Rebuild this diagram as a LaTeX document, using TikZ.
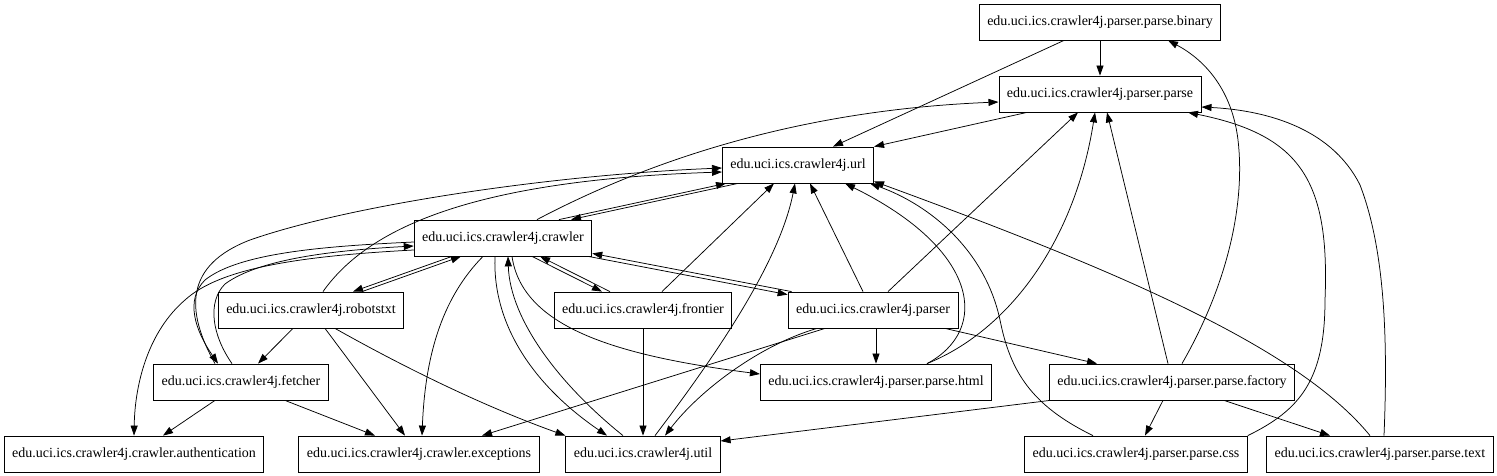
\documentclass[tikz,border=0pt]{standalone}
\usepackage{fontspec}
\setmainfont{Liberation Serif}
\usetikzlibrary{arrows.meta}

\begin{document}
\begin{tikzpicture}[x=1pt,y=-1pt,
	pkg/.style={draw, line width=0.8pt, minimum height=36pt, inner xsep=8pt, inner ysep=0pt, font=\fontsize{14}{16}\selectfont},
	dep/.style={-{Triangle[length=10pt,width=7pt]}, line width=0.75pt}]
				\useasboundingbox (0,0) rectangle (1497,476);

				% Package Nodes
				\node [pkg] (binary) at (1100,22) {edu.uci.ics.crawler4j.parser.parse.binary};
				\node [pkg] (parse) at (1100,94) {edu.uci.ics.crawler4j.parser.parse};
				\node [pkg] (url) at (798,165) {edu.uci.ics.crawler4j.url};
				\node [pkg] (crawler) at (503,238) {edu.uci.ics.crawler4j.crawler};
				\node [pkg] (robotstxt) at (311,310) {edu.uci.ics.crawler4j.robotstxt};
				\node [pkg] (frontier) at (643,310) {edu.uci.ics.crawler4j.frontier};
				\node [pkg] (parser) at (873,310) {edu.uci.ics.crawler4j.parser};
				\node [pkg] (fetcher) at (241,382) {edu.uci.ics.crawler4j.fetcher};
				\node [pkg] (html) at (876,382) {edu.uci.ics.crawler4j.parser.parse.html};
				\node [pkg] (factory) at (1172,382) {edu.uci.ics.crawler4j.parser.parse.factory};
				\node [pkg] (auth) at (134,454) {edu.uci.ics.crawler4j.crawler.authentication};
				\node [pkg] (exceptions) at (419,454) {edu.uci.ics.crawler4j.crawler.exceptions};
				\node [pkg] (util) at (643,454) {edu.uci.ics.crawler4j.util};
				\node [pkg] (css) at (1136,454) {edu.uci.ics.crawler4j.parser.parse.css};
				\node [pkg] (text) at (1380,454) {edu.uci.ics.crawler4j.parser.parse.text};

				%Straight Lines
				\draw [dep] (binary.south) -- (parse.north);
				\draw [dep] ([xshift=-36]binary.south) -- ([xshift=35]url.north);
				\draw [dep] ([xshift=-73]parse.south) -- (url.north east);
				\draw [dep] ([xshift=56]crawler.north) -- ([xshift=-72]url.south);
				\draw [dep] ([xshift=-60]url.south) -- ([xshift=68]crawler.north);
				\draw [dep] ([xshift=-51]crawler.south) -- ([xshift=42]robotstxt.north);
				\draw [dep] ([xshift=51]robotstxt.north) -- ([xshift=-42]crawler.south);
				\draw [dep] ([xshift=29]crawler.south) -- ([xshift=-41]frontier.north);
				\draw [dep] ([xshift=-33]frontier.north) -- ([xshift=37]crawler.south);
				\draw [dep] ([xshift=-4]crawler.south east) -- ([yshift=-3]parser.north west);
				\draw [dep] ([xshift=4]parser.north west) -- ([yshift=3]crawler.south east);
				\draw [dep] ([xshift=-18]robotstxt.south) -- ([xshift=17]fetcher.north);
				\draw [dep] ([xshift=14]robotstxt.south) -- ([xshift=-14]exceptions.north);
				\draw [dep] ([xshift=-26]fetcher.south) -- ([xshift=29]auth.north);
				\draw [dep] ([xshift=44]fetcher.south) -- ([xshift=-44]exceptions.north);
				\draw [dep] ([xshift=19]frontier.north) -- ([xshift=-24]url.south);
				\draw [dep] (frontier.south) -- (util.north);
				\draw [dep] ([xshift=-10]parser.north) -- ([xshift=12]url.south);
				\draw [dep] ([xshift=15]parser.north) -- ([xshift=-22]parse.south);
				\draw [dep] ([xshift=3]parser.south) -- (html.north);
				\draw [dep] ([xshift=72]parser.south) -- ([xshift=-75]factory.north);
				\draw [dep] ([xshift=-48]parser.south) -- ([xshift=63]exceptions.north);
				\draw [dep] ([xshift=-4]factory.north) -- ([xshift=7]parse.south);
				\draw [dep] ([xshift=-9]factory.south) -- ([xshift=9]css.north);
				\draw [dep] ([xshift=52]factory.south) -- ([xshift=-50]text.north);
				\draw [dep] ([xshift=-122]factory.south) -- ([yshift=13]util.east);

				%Curve Lines
				\draw [dep] ([xshift=34]crawler.north) .. controls (650,160) and (800,110) .. ([yshift=-8]parse.west);
				\draw [dep] ([xshift=-26]fetcher.north) .. controls (185,310) and (185,265) .. (250,240) .. controls (350,205) and (550,175) .. ([yshift=-3]url.west);
				\draw [dep] ([xshift=12]robotstxt.north) .. controls (370,225) and (480,180) .. ([yshift=-7]url.west);
				\draw [dep] ([yshift=-4]crawler.west) .. controls (330,246) and (240,252) .. (205,280) .. controls (185,300) and (195,330) .. ([xshift=-23]fetcher.north);
				\draw [dep] ([xshift=-9]fetcher.north) .. controls (212,335) and (207,302) .. (225,284) .. controls (260,258) and (340,250) .. ([yshift=-8]crawler.west);
				\draw [dep] ([yshift=-12]crawler.west) .. controls (300,256) and (220,268) .. (185,300) .. controls (150,330) and (135,380) .. (auth.north);
				\draw [dep] ([xshift=-20]crawler.south) .. controls (440,300) and (425,360) .. ([xshift=3]exceptions.north);
				\draw [dep] ([xshift=-8]crawler.south) .. controls (492,330) and (540,390) .. ([xshift=-36]util.north);
				\draw [dep] ([xshift=-20]util.north) .. controls (560,385) and (510,320) .. ([xshift=5]crawler.south);
				\draw [dep] ([xshift=9]crawler.south) .. controls (522,325) and (610,355) .. ([yshift=8]html.west);
				\draw [dep] ([xshift=24]robotstxt.south) .. controls (400,365) and (480,405) .. (util.north west);
				\draw [dep] ([xshift=-56]parser.south) .. controls (760,345) and (700,390) .. ([xshift=22]util.north);
				\draw [dep] ([xshift=12]util.north) .. controls (720,350) and (780,260) .. ([xshift=-3]url.south);
				\draw [dep] ([xshift=51]html.north) .. controls (990,330) and (980,250) .. ([xshift=47]url.south);
				\draw [dep] ([xshift=51]html.north) .. controls (1010,330) and (1075,240) .. ([xshift=-5]parse.south);
				\draw [dep] ([xshift=-43]css.north) .. controls (1030,405) and (1010,370) .. (1000,320) .. controls (985,250) and (930,205) .. ([xshift=-4]url.south east);
				\draw [dep] (css.north east) .. controls (1300,410) and (1325,380) .. (1325,300) .. controls (1330,180) and (1300,135) .. ([xshift=88]parse.south);
				\draw [dep] ([xshift=-10]text.north) .. controls (1300,350) and (1130,275) .. ([yshift=2]url.south east);
				\draw [dep] ([xshift=4]text.north) .. controls (1388,340) and (1385,250) .. (1360,185) .. controls (1330,125) and (1260,110) .. ([yshift=-13]parse.east);
				\draw [dep] ([xshift=10]factory.north) .. controls (1230,280) and (1245,200) .. (1238,140) .. controls (1232,90) and (1205,60) .. ([xshift=68]binary.south);

\end{tikzpicture}
\end{document}
